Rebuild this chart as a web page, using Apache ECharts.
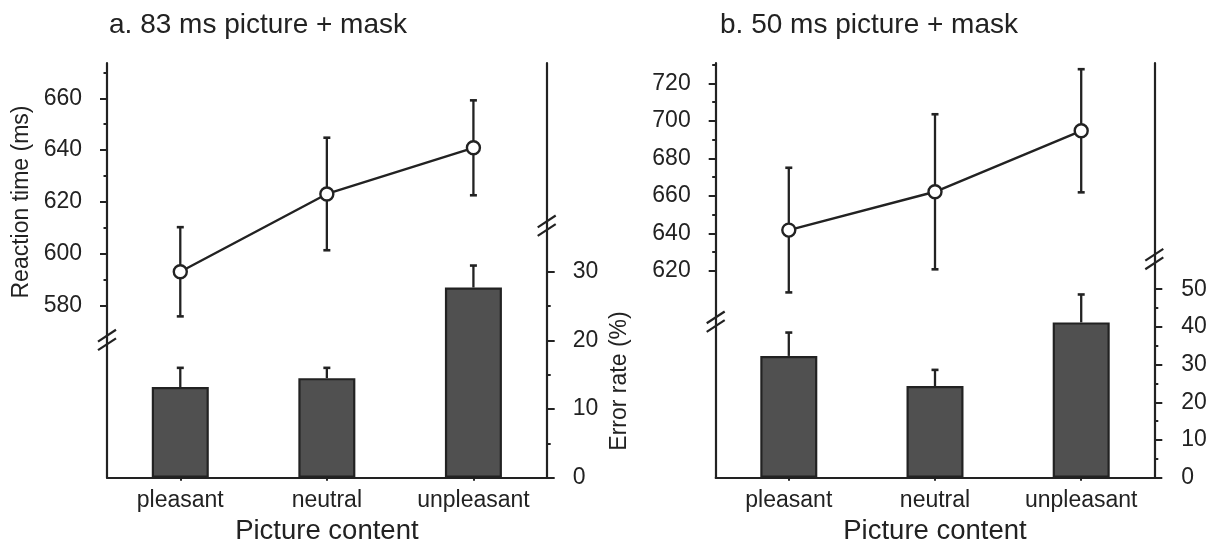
<!DOCTYPE html>
<html>
<head>
<meta charset="utf-8">
<script src="https://cdn.jsdelivr.net/npm/echarts@6/dist/echarts.min.js"></script>
<style>
  html, body { margin: 0; padding: 0; background: #fff; }
  #chart { width: 1215px; height: 545px; }
</style>
</head>
<body>
<div id="chart"></div>
<script>
// Picture content categories (shared by both panels)
const categories = ['pleasant', 'neutral', 'unpleasant'];

// Panel a: 83 ms picture + mask
const rtMeanA = [593.1, 623.1, 640.9];      // reaction time (ms)
const rtSemA = [17.2, 21.7, 18.3];
const errMeanA = [13.2, 14.5, 27.7];        // error rate (%)
const errSemA = [2.8, 1.5, 3.2];
const rtTicksA = [580, 600, 620, 640, 660];
const rtMinorA = [590, 610, 630, 650, 670];
const errTicksA = [0, 10, 20, 30];
const errMinorA = [5, 15, 25];

// Panel b: 50 ms picture + mask
const rtMeanB = [641.8, 662.2, 694.7];
const rtSemB = [33.2, 41.3, 32.8];
const errMeanB = [32.3, 24.3, 41.2];
const errSemB = [6.2, 4.3, 7.4];
const rtTicksB = [620, 640, 660, 680, 700, 720];
const rtMinorB = [630, 650, 670, 690, 710, 730];
const errTicksB = [0, 10, 20, 30, 40, 50];
const errMinorB = [5, 15, 25, 35, 45];

const INK = '#222';
const FONT = '"Liberation Sans", Arial, Helvetica, sans-serif';
const TICK_FONT = 23;

const chart = echarts.init(document.getElementById('chart'), null, { renderer: 'canvas' });

// Error bar renderer: whiskers up (and optionally down) with flat caps
function whiskers(twoSided) {
  return function (params, api) {
    const i = api.value(0), m = api.value(1), e = api.value(2);
    const top = api.coord([i, m + e]);
    const base = api.coord([i, twoSided ? m - e : m]);
    const cap = 3.5;
    const style = { stroke: INK, lineWidth: 2.3 };
    const children = [
      { type: 'line', shape: { x1: top[0], y1: top[1], x2: base[0], y2: base[1] }, style },
      { type: 'line', shape: { x1: top[0] - cap, y1: top[1], x2: top[0] + cap, y2: top[1] }, style: { stroke: INK, lineWidth: 2.6 } }
    ];
    if (twoSided) {
      children.push({ type: 'line', shape: { x1: base[0] - cap, y1: base[1], x2: base[0] + cap, y2: base[1] }, style: { stroke: INK, lineWidth: 2.6 } });
    }
    return { type: 'group', children };
  };
}

function valueAxis(opts) {
  return {
    type: 'value',
    gridIndex: opts.grid,
    position: opts.side,
    min: opts.min,
    max: opts.max,
    splitLine: { show: false },
    axisLine: { show: opts.line, onZero: false, lineStyle: { color: INK, width: 2.2 } },
    axisTick: { show: true, customValues: opts.ticks, length: opts.len, lineStyle: { color: INK, width: 2 } },
    axisLabel: opts.labels
      ? { show: true, customValues: opts.ticks, margin: opts.margin, color: INK, fontSize: TICK_FONT, fontFamily: FONT }
      : { show: false }
  };
}

const panels = [
  { left: 107, right: 668.3, rtMin: 513.7, rtMax: 673.6, errMax: 60.4,
    rt: rtMeanA, rtSem: rtSemA, err: errMeanA, errSem: errSemA,
    rtTicks: rtTicksA, rtMinor: rtMinorA, errTicks: errTicksA, errMinor: errMinorA,
    leftMargin: 25, rightMargin: 26 },
  { left: 715.7, right: 60.7, rtMin: 509.9, rtMax: 730.8, errMax: 110,
    rt: rtMeanB, rtSem: rtSemB, err: errMeanB, errSem: errSemB,
    rtTicks: rtTicksB, rtMinor: rtMinorB, errTicks: errTicksB, errMinor: errMinorB,
    leftMargin: 25, rightMargin: 27 }
];

const grid = [], xAxis = [], yAxis = [], series = [];

panels.forEach((p, g) => {
  grid.push({ left: p.left, right: p.right, top: 63, bottom: 67.3, containLabel: false, outerBoundsMode: 'none' });
  xAxis.push({
    type: 'category', gridIndex: g, data: categories,
    axisLine: { show: true, onZero: false, lineStyle: { color: INK, width: 2.2 } },
    axisTick: { show: true, alignWithLabel: true, interval: 0, length: 3, lineStyle: { color: INK, width: 2 } },
    axisLabel: { color: INK, fontSize: TICK_FONT, fontFamily: FONT, margin: 11, interval: 0, hideOverlap: false },
    name: 'Picture content', nameLocation: 'middle', nameGap: 40,
    nameTextStyle: { color: INK, fontSize: 27.5, fontFamily: FONT }
  });
  const base = yAxis.length;
  yAxis.push(valueAxis({ grid: g, side: 'left', min: p.rtMin, max: p.rtMax, line: true, ticks: p.rtTicks, len: 7, labels: true, margin: p.leftMargin }));
  yAxis.push(valueAxis({ grid: g, side: 'left', min: p.rtMin, max: p.rtMax, line: false, ticks: p.rtMinor, len: 3.5, labels: false }));
  yAxis.push(valueAxis({ grid: g, side: 'right', min: 0, max: p.errMax, line: true, ticks: p.errTicks, len: 8, labels: true, margin: p.rightMargin }));
  yAxis.push(valueAxis({ grid: g, side: 'right', min: 0, max: p.errMax, line: false, ticks: p.errMinor, len: 4, labels: false }));

  series.push({
    type: 'bar', xAxisIndex: g, yAxisIndex: base + 2, data: p.err, barWidth: 57,
    itemStyle: { color: '#505050', borderColor: INK, borderWidth: 2.2 }, z: 2, silent: true
  });
  series.push({
    type: 'custom', xAxisIndex: g, yAxisIndex: base + 2, renderItem: whiskers(false),
    data: p.err.map((v, i) => [i, v, p.errSem[i]]), z: 1, silent: true
  });
  series.push({
    type: 'custom', xAxisIndex: g, yAxisIndex: base, renderItem: whiskers(true),
    data: p.rt.map((v, i) => [i, v, p.rtSem[i]]), z: 3, silent: true
  });
  series.push({
    type: 'line', xAxisIndex: g, yAxisIndex: base, data: p.rt,
    symbol: 'circle', symbolSize: 13,
    lineStyle: { color: INK, width: 2.4 },
    itemStyle: { color: '#fff', borderColor: INK, borderWidth: 2.4 },
    z: 4, silent: true, animation: false
  });
});

const titleStyle = { color: INK, fontSize: 28, fontWeight: 'normal', fontFamily: FONT };
chart.setOption({
  animation: false,
  backgroundColor: '#fff',
  title: [
    { text: 'a. 83 ms picture + mask', left: 109, top: 11, padding: 0, textStyle: titleStyle },
    { text: 'b. 50 ms picture + mask', left: 720, top: 11, padding: 0, textStyle: titleStyle }
  ],
  grid, xAxis, yAxis, series
});

// Axis break marks ("//") at a given value on a given y-axis
function breakMark(axisIndex, value, x) {
  const y = chart.convertToPixel({ yAxisIndex: axisIndex }, value);
  return {
    type: 'group', x: x, y: y, z: 50,
    children: [
      { type: 'polygon', shape: { points: [[-9, 1.6], [9, -10.2], [9, -1.6], [-9, 10.2]] }, style: { fill: '#fff', stroke: null } },
      { type: 'line', shape: { x1: -9, y1: 1.6, x2: 9, y2: -10.2 }, style: { stroke: INK, lineWidth: 2.2 } },
      { type: 'line', shape: { x1: -9, y1: 10.2, x2: 9, y2: -1.6 }, style: { stroke: INK, lineWidth: 2.2 } }
    ]
  };
}

const W = 1215;
chart.setOption({
  graphic: [
    breakMark(0, 566.8, panels[0].left),
    breakMark(2, 36.7, W - panels[0].right),
    breakMark(4, 593, panels[1].left),
    breakMark(6, 58, W - panels[1].right),
    {
      type: 'text', x: 22, y: 202, rotation: Math.PI / 2,
      style: { text: 'Reaction time (ms)', fill: INK, font: '23px ' + FONT, align: 'center', verticalAlign: 'middle' }
    },
    {
      type: 'text', x: 620, y: 381, rotation: Math.PI / 2,
      style: { text: 'Error rate (%)', fill: INK, font: '23px ' + FONT, align: 'center', verticalAlign: 'middle' }
    }
  ]
});
</script>
</body>
</html>
